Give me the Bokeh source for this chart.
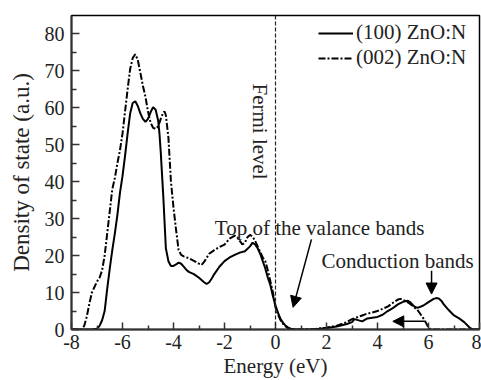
import math
from bokeh.plotting import figure
from bokeh.models import FixedTicker, Span, Label, Arrow, NormalHead
from bokeh.embed import file_html
from bokeh.resources import INLINE

# ---- data ----
x_100 = [-8, -7.2, -7.0, -6.9, -6.8, -6.7, -6.6, -6.5, -6.4, -6.3, -6.2, -6.1, -6.0, -5.9, -5.8,
         -5.7, -5.6, -5.5, -5.4, -5.3, -5.2, -5.1, -5.0, -4.9, -4.8, -4.7, -4.6, -4.55, -4.5,
         -4.45, -4.4, -4.3, -4.2, -4.1, -4.0, -3.9, -3.8, -3.7, -3.6, -3.5, -3.4, -3.2, -3.0,
         -2.8, -2.7, -2.6, -2.5, -2.4, -2.2, -2.0, -1.8, -1.6, -1.4, -1.2, -1.0, -0.9, -0.8,
         -0.7, -0.6, -0.5, -0.4, -0.3, -0.2, -0.1, 0.0, 0.1, 0.2, 0.3, 0.4, 0.5, 0.6, 0.8, 1.0,
         1.5, 2.0, 2.4, 2.8, 3.0, 3.1, 3.2, 3.4, 3.6, 3.8, 4.0, 4.2, 4.4, 4.6, 4.8, 5.0, 5.2,
         5.3, 5.4, 5.5, 5.6, 5.8, 6.0, 6.2, 6.3, 6.4, 6.5, 6.6, 6.8, 7.0, 7.2, 7.4, 7.6, 7.7, 8.0]
y_100 = [0, 0, 0.2, 1, 2.5, 5, 11, 16.5, 21.5, 26, 31, 37, 41.5, 47, 53, 58.5, 61.3, 61.8, 60.5,
         58.5, 57, 56.2, 57, 58.8, 60.2, 59.5, 56.5, 53, 48, 42, 36, 22, 18.5, 17.2, 17.2, 17.6,
         18.1, 17.8, 17, 16.2, 15.6, 15, 14, 12.8, 12.3, 12.8, 13.8, 15, 17, 18.5, 19.5, 20.2,
         20.8, 21.2, 22.5, 23.5, 23, 22, 20.5, 18.5, 16.5, 14, 12, 9, 6.5, 4.5, 2.8, 1.8, 1, 0.5,
         0.2, 0, 0, 0, 0.4, 0.8, 1.5, 2, 2.8, 2.6, 2.2, 3, 3.2, 3.4, 4, 5, 5.8, 6.8, 7.5, 7.8,
         7.3, 6.5, 6, 5.9, 6.5, 7.4, 8.3, 8.5, 8.4, 7.8, 6.8, 5.2, 3.8, 3, 2, 0.6, 0.1, 0]

x_002 = [-8, -7.6, -7.5, -7.4, -7.3, -7.2, -7.1, -7.0, -6.9, -6.8, -6.7, -6.6, -6.5, -6.4, -6.3,
         -6.2, -6.1, -6.0, -5.9, -5.8, -5.7, -5.6, -5.5, -5.4, -5.3, -5.2, -5.1, -5.0, -4.9,
         -4.8, -4.7, -4.6, -4.5, -4.4, -4.35, -4.3, -4.2, -4.15, -4.1, -4.0, -3.9, -3.8, -3.7,
         -3.6, -3.4, -3.2, -3.0, -2.9, -2.8, -2.6, -2.4, -2.2, -2.0, -1.8, -1.6, -1.5, -1.4,
         -1.3, -1.2, -1.1, -1.0, -0.9, -0.8, -0.7, -0.6, -0.5, -0.4, -0.3, -0.2, -0.1, 0.0, 0.1,
         0.2, 0.3, 0.4, 0.5, 0.6, 1.0, 1.5, 2.0, 2.4, 2.6, 2.8, 3.0, 3.2, 3.4, 3.6, 3.8, 4.0,
         4.2, 4.4, 4.6, 4.8, 4.9, 5.0, 5.1, 5.2, 5.4, 5.6, 5.7, 5.8, 5.9, 6.0, 6.1, 8.0]
y_002 = [0, 0, 1, 3.5, 7, 10, 11.5, 13, 14, 16, 20, 26, 32, 38, 41, 45, 48.5, 53, 59, 65, 70.5,
         73.5, 74.5, 73, 69.5, 66, 63, 59, 56, 54.6, 54.3, 55, 57, 58.8, 59, 58, 52, 46, 40, 33,
         27, 21.5, 20.2, 19.8, 19.3, 18.6, 17.8, 17.5, 18.3, 20.5, 21.5, 22.3, 23, 24.6, 25.4,
         25, 24, 23, 23.5, 25, 25.6, 25.2, 24, 22.5, 21, 19.5, 18.5, 16, 13, 10, 6, 4, 2.5, 1.5,
         0.8, 0.3, 0, 0, 0.1, 0.5, 1, 1.5, 2, 2.8, 3.3, 3.8, 4.3, 4.6, 5, 5.6, 6.2, 7.2, 8.1,
         8.3, 8, 7.7, 7.3, 6.3, 5, 4, 3, 1.8, 0.5, 0, 0]

series_labels = ["(100) ZnO:N", "(002) ZnO:N"]
x_ticks = [-8, -6, -4, -2, 0, 2, 4, 6, 8]
x_tick_labels = ["-8", "-6", "-4", "-2", "0", "2", "4", "6", "8"]
x_minor = [-7, -5, -3, -1, 1, 3, 5, 7]
y_ticks = [0, 10, 20, 30, 40, 50, 60, 70, 80]
y_tick_labels = ["0", "10", "20", "30", "40", "50", "60", "70", "80"]
y_minor = [5, 15, 25, 35, 45, 55, 65, 75]
x_title = "Energy (eV)"
y_title = "Density of state (a.u.)"

FONT = "Liberation Serif"

p = figure(width=481, height=380, x_range=(-8, 8), y_range=(0, 85),
           output_backend="svg", toolbar_location=None,
           min_border_left=71, min_border_right=2, min_border_top=15, min_border_bottom=49)
p.background_fill_color = "white"
p.border_fill_color = "white"
p.outline_line_color = "black"
p.outline_line_width = 1.5
p.xgrid.visible = False
p.ygrid.visible = False

p.xaxis.ticker = FixedTicker(ticks=x_ticks, minor_ticks=x_minor)
p.yaxis.ticker = FixedTicker(ticks=y_ticks, minor_ticks=y_minor)
p.xaxis.major_label_overrides = dict(zip(x_ticks, x_tick_labels))
p.yaxis.major_label_overrides = dict(zip(y_ticks, y_tick_labels))

for ax in (p.xaxis, p.yaxis):
    ax.axis_line_color = "#333333"
    ax.axis_line_width = 2
    ax.major_tick_line_color = "#333333"
    ax.minor_tick_line_color = "#333333"
    ax.major_tick_line_width = 1.5
    ax.minor_tick_line_width = 1.5
    ax.major_tick_out = 0
    ax.minor_tick_out = 0
    ax.major_label_text_font = FONT
    ax.major_label_text_font_size = "20px"
    ax.major_label_text_color = "#222222"
    ax.axis_label_text_font = FONT
    ax.axis_label_text_font_style = "normal"
    ax.axis_label_text_color = "#222222"

p.xaxis.major_tick_in = 7
p.xaxis.minor_tick_in = 4
p.yaxis.major_tick_in = 8
p.yaxis.minor_tick_in = 5
p.xaxis.axis_label = x_title
p.yaxis.axis_label = y_title
p.xaxis.axis_label_text_font_size = "21px"
p.yaxis.axis_label_text_font_size = "23px"
p.xaxis.major_label_standoff = 5
p.yaxis.major_label_standoff = 7
p.xaxis.axis_label_standoff = 2
p.yaxis.axis_label_standoff = 8

p.line(x_100, y_100, line_color="black", line_width=2, legend_label=series_labels[0])
p.line(x_002, y_002, line_color="black", line_width=2, line_dash="7 2 2 2",
       legend_label=series_labels[1])

# Fermi level
p.add_layout(Span(location=0, dimension="height", line_color="#222222",
                  line_width=1.2, line_dash="4 2"))
p.add_layout(Label(x=-0.62, y=66.6, text="Fermi level", angle=-math.pi / 2,
                   text_align="left", text_baseline="middle",
                   text_font=FONT, text_font_size="21px", text_color="#222222"))

p.add_layout(Label(x=-2.38, y=27.6, text="Top of the valance bands",
                   text_align="left", text_baseline="alphabetic",
                   text_font=FONT, text_font_size="21px", text_color="#222222"))
p.add_layout(Label(x=1.8, y=18.5, text="Conduction bands",
                   text_align="left", text_baseline="alphabetic",
                   text_font=FONT, text_font_size="21px", text_color="#222222"))

def head():
    return NormalHead(size=11, fill_color="black", line_color="black", line_width=1)

p.add_layout(Arrow(end=head(), x_start=1.41, y_start=24.4, x_end=0.69, y_end=6.0,
                   line_color="black", line_width=1.5))
p.add_layout(Arrow(end=head(), x_start=6.12, y_start=15.9, x_end=6.12, y_end=9.6,
                   line_color="black", line_width=1.5))
p.add_layout(Arrow(end=head(), x_start=5.85, y_start=2.2, x_end=4.6, y_end=2.2,
                   line_color="black", line_width=1.5))

lg = p.legend[0]
lg.location = "top_right"
lg.margin = 0
lg.padding = 5
lg.spacing = -13
lg.label_standoff = 3
lg.glyph_width = 35
lg.glyph_height = 16
lg.label_height = 16
lg.label_width = 118
lg.label_text_font = FONT
lg.label_text_font_size = "21px"
lg.label_text_color = "#222222"
lg.border_line_alpha = 0
lg.background_fill_alpha = 0

open("out.html", "w").write(file_html(p, INLINE))
